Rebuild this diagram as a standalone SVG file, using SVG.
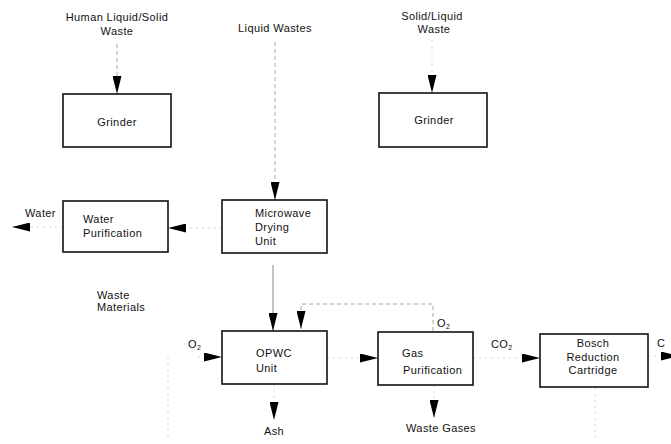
<svg xmlns="http://www.w3.org/2000/svg" width="671" height="444" viewBox="0 0 671 444">
<defs>
<style>
text{font-family:"Liberation Sans",Arial,sans-serif;font-size:11px;fill:#111;letter-spacing:0.4px}
.c{text-anchor:middle}
.box{fill:#fff;stroke:#111;stroke-width:1.6}
.ln{fill:none;stroke:#888;stroke-width:1}
.dl{fill:none;stroke:#aaa;stroke-width:1;stroke-dasharray:4 3}
.fl{fill:none;stroke:#d4d4d4;stroke-width:1;stroke-dasharray:2 4}
.sub{font-size:7px}
</style>
<marker id="ah" markerUnits="userSpaceOnUse" markerWidth="18" markerHeight="9" refX="18" refY="4.5" orient="auto">
<path d="M0,0 L18,4.5 L0,9 Z" fill="#000"/>
</marker>
</defs>
<rect width="671" height="444" fill="#fff"/>

<g id="connectors">
<path class="dl" d="M117,44 V94" marker-end="url(#ah)"/>
<path class="dl" d="M275,42 V200" marker-end="url(#ah)"/>
<path class="fl" d="M432,40 V93" marker-end="url(#ah)"/>
<path class="fl" d="M222,228 H168" marker-end="url(#ah)"/>
<path class="fl" d="M63,227 H12" marker-end="url(#ah)"/>
<path class="ln" d="M273,265 V331" marker-end="url(#ah)"/>
<path class="dl" d="M433,331 V304 H301 V329" marker-end="url(#ah)"/>
<path class="fl" d="M198,357 H222" marker-end="url(#ah)"/>
<path class="fl" d="M274,384 V420" marker-end="url(#ah)"/>
<path class="fl" d="M327,358 H378" marker-end="url(#ah)"/>
<path class="fl" d="M434,385 V418" marker-end="url(#ah)"/>
<path class="fl" d="M473,358 H540" marker-end="url(#ah)"/>
<path class="fl" d="M648,356 H679" marker-end="url(#ah)"/>
<path class="fl" d="M168,357 V438"/>
<path class="fl" d="M595,388 V440"/>
</g>

<g id="label-human"><text class="c" x="117" y="21">Human Liquid/Solid</text><text class="c" x="117" y="35">Waste</text></g>
<g id="label-liquid"><text class="c" x="275" y="32">Liquid Wastes</text></g>
<g id="label-solid"><text class="c" x="432" y="20">Solid/Liquid</text><text class="c" x="434" y="33">Waste</text></g>

<g id="grinder1"><rect class="box" x="63" y="94" width="108" height="53"/><text class="c" x="117" y="126">Grinder</text></g>
<g id="grinder2"><rect class="box" x="379" y="93" width="108" height="54"/><text class="c" x="434" y="124">Grinder</text></g>

<g id="water-out"><text x="25" y="217">Water</text></g>
<g id="water-purification"><rect class="box" x="63" y="201" width="105" height="51"/><text x="83" y="223">Water</text><text x="83" y="237">Purification</text></g>
<g id="microwave"><rect class="box" x="222" y="200" width="105" height="53"/><text x="255" y="217">Microwave</text><text x="255" y="231">Drying</text><text x="255" y="245">Unit</text></g>

<g id="waste-materials"><text x="97" y="299">Waste</text><text x="97" y="311">Materials</text></g>

<g id="o2-in"><text x="188" y="348">O<tspan class="sub" dy="2">2</tspan></text></g>
<g id="opwc"><rect class="box" x="222" y="331" width="105" height="53"/><text x="256" y="357">OPWC</text><text x="256" y="372">Unit</text></g>
<g id="ash"><text class="c" x="274" y="435">Ash</text></g>

<g id="o2-recycle"><text x="437" y="327">O<tspan class="sub" dy="2">2</tspan></text></g>
<g id="gas-purification"><rect class="box" x="378" y="332" width="95" height="53"/><text x="402" y="357">Gas</text><text x="403" y="374">Purification</text></g>
<g id="waste-gases"><text class="c" x="441" y="432">Waste Gases</text></g>

<g id="co2"><text x="491" y="348">CO<tspan class="sub" dy="2">2</tspan></text></g>
<g id="bosch"><rect class="box" x="540" y="334" width="108" height="53"/><text class="c" x="593" y="347">Bosch</text><text class="c" x="593" y="361">Reduction</text><text class="c" x="593" y="374">Cartridge</text></g>
<g id="c-out"><text x="657" y="347">C</text></g>
</svg>
